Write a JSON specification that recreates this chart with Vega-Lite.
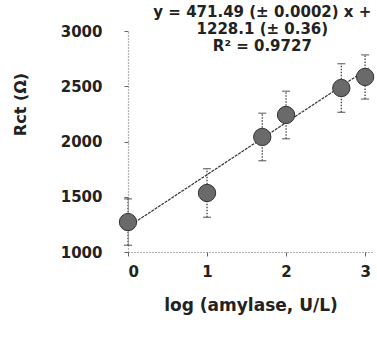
{
  "$schema": "https://vega.github.io/schema/vega-lite/v6.json",
  "autosize": "none",
  "width": 245,
  "height": 221,
  "padding": {"left": 128, "top": 31, "right": 4, "bottom": 87},
  "background": "white",
  "config": {
    "view": {"stroke": null},
    "font": "DejaVu Sans",
    "axis": {
      "grid": false,
      "domainColor": "#666",
      "domainDash": [1, 2],
      "domainWidth": 1.2,
      "tickColor": "#666",
      "tickSize": 4,
      "labelFont": "DejaVu Sans",
      "labelFontWeight": "bold",
      "labelFontSize": 15,
      "labelColor": "#222",
      "titleFont": "DejaVu Sans",
      "titleFontWeight": "bold",
      "titleFontSize": 16,
      "titleColor": "#222"
    }
  },
  "datasets": {
    "points": [
      {"logA": 0, "rct": 1271, "err": 210},
      {"logA": 1, "rct": 1534, "err": 220},
      {"logA": 1.699, "rct": 2041, "err": 215},
      {"logA": 2, "rct": 2240, "err": 215},
      {"logA": 2.699, "rct": 2484, "err": 220},
      {"logA": 3, "rct": 2584, "err": 200}
    ],
    "fit": [
      {"logA": 0, "rct": 1228.1},
      {"logA": 3.05, "rct": 2666.1}
    ],
    "equation": [
      {"logA": 1.7, "rct": 3172, "line": "y = 471.49 (± 0.0002) x +"},
      {"logA": 1.7, "rct": 3018, "line": "1228.1 (± 0.36)"},
      {"logA": 1.7, "rct": 2864, "line": "R² = 0.9727"}
    ]
  },
  "layer": [
    {
      "data": {"name": "fit"},
      "mark": {"type": "line", "color": "#333", "strokeWidth": 1.2, "strokeDash": [3, 1]},
      "encoding": {
        "x": {
          "field": "logA", "type": "quantitative",
          "scale": {"domain": [0, 3.1], "nice": false, "zero": false},
          "axis": {"values": [0, 1, 2, 3], "format": "d", "title": "log (amylase, U/L)", "titleFontSize": 17, "labelPadding": 8, "titlePadding": 18}
        },
        "y": {
          "field": "rct", "type": "quantitative",
          "scale": {"domain": [1000, 3000], "nice": false, "zero": false},
          "axis": {"values": [1000, 1500, 2000, 2500, 3000], "format": "d", "title": "Rct (Ω)", "labelPadding": 22, "titleX": -108, "titleY": 73, "titleAngle": -90, "titleAlign": "center", "titleBaseline": "middle"}
        }
      }
    },
    {
      "data": {"name": "points"},
      "transform": [
        {"calculate": "datum.rct - datum.err", "as": "lo"},
        {"calculate": "datum.rct + datum.err", "as": "hi"}
      ],
      "layer": [
        {
          "mark": {"type": "rule", "color": "#444", "strokeDash": [1.5, 1.5], "strokeWidth": 1.3},
          "encoding": {
            "x": {"field": "logA", "type": "quantitative"},
            "y": {"field": "lo", "type": "quantitative"},
            "y2": {"field": "hi"}
          }
        },
        {
          "mark": {"type": "tick", "orient": "horizontal", "color": "#444", "size": 8, "thickness": 1.3},
          "encoding": {
            "x": {"field": "logA", "type": "quantitative"},
            "y": {"field": "lo", "type": "quantitative"}
          }
        },
        {
          "mark": {"type": "tick", "orient": "horizontal", "color": "#444", "size": 8, "thickness": 1.3},
          "encoding": {
            "x": {"field": "logA", "type": "quantitative"},
            "y": {"field": "hi", "type": "quantitative"}
          }
        },
        {
          "mark": {"type": "point", "shape": "circle", "filled": true, "size": 300, "color": "#6a6a6a", "stroke": "#333", "strokeWidth": 1, "opacity": 1},
          "encoding": {
            "x": {"field": "logA", "type": "quantitative"},
            "y": {"field": "rct", "type": "quantitative"}
          }
        }
      ]
    },
    {
      "data": {"name": "equation"},
      "mark": {"type": "text", "font": "DejaVu Sans", "fontWeight": "bold", "fontSize": 15, "color": "#222", "align": "center", "baseline": "middle", "clip": false},
      "encoding": {
        "x": {"field": "logA", "type": "quantitative"},
        "y": {"field": "rct", "type": "quantitative"},
        "text": {"field": "line"}
      }
    }
  ]
}
